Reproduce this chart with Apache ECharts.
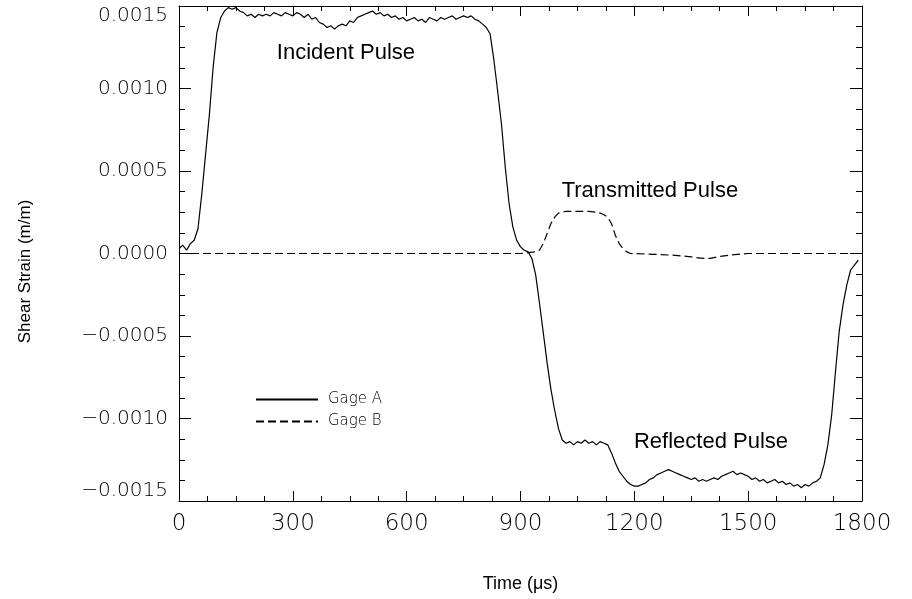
<!DOCTYPE html>
<html>
<head>
<meta charset="utf-8">
<script src="https://cdn.jsdelivr.net/npm/echarts@6/dist/echarts.min.js"></script>
<style>
  html, body { margin: 0; padding: 0; background: #fff; }
  #main { width: 912px; height: 599px; }
</style>
</head>
<body>
<div id="main"></div>
<script>
// Gage A: incident + reflected pulse (sampled every 10 us)
var gageATime = [];
for (var t = 0; t <= 1800; t += 10) gageATime.push(t);
var gageAStrain = [
  0.00003, 0.00005, 0.00002, 0.00006, 0.00008, 0.00015, 0.00036, 0.00060, 0.00084, 0.00113,
  0.00134, 0.00143, 0.00147, 0.00149, 0.00148, 0.00149, 0.00147, 0.00146, 0.00144, 0.00145,
  0.00143, 0.00145, 0.00144, 0.00145, 0.00144, 0.00146, 0.00145, 0.00144, 0.00146, 0.00145,
  0.00144, 0.00146, 0.00145, 0.00143, 0.00145, 0.00142, 0.00143, 0.00140, 0.00139, 0.00137,
  0.00138, 0.00136, 0.00138, 0.00139, 0.00138, 0.00141, 0.00140, 0.00143, 0.00144, 0.00145,
  0.00146, 0.00147, 0.00145, 0.00146, 0.00144, 0.00145, 0.00143, 0.00144, 0.00142, 0.00143,
  0.00141, 0.00142, 0.00143, 0.00141, 0.00142, 0.00140, 0.00143, 0.00142, 0.00141, 0.00143,
  0.00142, 0.00143, 0.00144, 0.00142, 0.00143, 0.00144, 0.00143, 0.00144, 0.00142, 0.00141,
  0.00139, 0.00137, 0.00133, 0.00117, 0.00098, 0.00078, 0.00052, 0.00030, 0.00016, 0.00008,
  0.00004, 0.00002, 0.00001, -0.00003, -0.00013, -0.00030, -0.00048, -0.00066, -0.00082, -0.00095,
  -0.00106, -0.00113, -0.00115, -0.00114, -0.00116, -0.00114, -0.00115, -0.00113, -0.00115, -0.00114,
  -0.00116, -0.00114, -0.00115, -0.00116, -0.00121, -0.00127, -0.00132, -0.00135, -0.00138, -0.00140,
  -0.00141, -0.00141, -0.00140, -0.00139, -0.00137, -0.00136, -0.00134, -0.00133, -0.00132, -0.00131,
  -0.00132, -0.00133, -0.00134, -0.00135, -0.00136, -0.00137, -0.00136, -0.00138, -0.00137, -0.00138,
  -0.00137, -0.00136, -0.00137, -0.00135, -0.00134, -0.00133, -0.00132, -0.00134, -0.00133, -0.00134,
  -0.00135, -0.00137, -0.00136, -0.00138, -0.00137, -0.00139, -0.00138, -0.00137, -0.00139, -0.00138,
  -0.00140, -0.00139, -0.00141, -0.00140, -0.00142, -0.00140, -0.00141, -0.00139, -0.00138, -0.00136,
  -0.00128, -0.00116, -0.00098, -0.00072, -0.00047, -0.00031, -0.00019, -0.00010, -0.00007, -0.00004
];

// Gage B: transmitted pulse
var gageBTime = [0, 100, 200, 300, 400, 500, 600, 700, 800, 900, 920, 940, 950, 960, 970, 980, 990, 1000,
  1020, 1050, 1080, 1100, 1110, 1120, 1130, 1140, 1150, 1160, 1170, 1180, 1190, 1250, 1300, 1350,
  1380, 1400, 1420, 1450, 1500, 1600, 1700, 1800];
var gageBStrain = [0.00000, 0.00000, 0.00000, 0.00000, 0.00000, 0.00000, 0.00000, 0.00000, 0.00000, 0.00000,
  0.000005, 0.00001, 0.00002, 0.00006, 0.00012, 0.00018, 0.00022, 0.000245,
  0.000255, 0.000255, 0.000255, 0.00025, 0.000245, 0.000235, 0.00022, 0.00018, 0.00011, 0.00006,
  0.00003, 0.00001, 0.00000, -0.000005, -0.00001, -0.00002, -0.00003, -0.00003, -0.00002,
  -0.00001, 0.00000, 0.00000, 0.00000, 0.00000];

var xTicks = { min: 0, max: 1800, interval: 300 };
var yTicks = { min: -0.0015, max: 0.0015, interval: 0.0005 };

var pulseLabels = [
  { name: 'Incident Pulse', t: 440, v: 0.001218 },
  { name: 'Transmitted Pulse', t: 1241, v: 0.000382 },
  { name: 'Reflected Pulse', t: 1402, v: -0.001145 }
];

function pairs(xs, ys) {
  var out = [];
  for (var i = 0; i < xs.length; i++) out.push([xs[i], ys[i]]);
  return out;
}

var labelFont = 'DejaVu Sans';
var textFont = 'Liberation Sans, Arial, sans-serif';

var myChart = echarts.init(document.getElementById('main'));

function xAxisOf(pos, showLabel) {
  return {
    type: 'value', position: pos,
    min: xTicks.min, max: xTicks.max, interval: xTicks.interval,
    axisLine: { show: true, onZero: false, lineStyle: { color: '#000', width: 1 } },
    axisTick: { show: true, inside: true, length: 10, lineStyle: { color: '#000' } },
    minorTick: { show: true, splitNumber: 4, length: 5, lineStyle: { color: '#000' } },
    splitLine: { show: false },
    axisLabel: {
      show: showLabel, margin: 12, color: '#000',
      fontFamily: labelFont, fontWeight: 200, fontSize: 23,
      formatter: function (v) { return String(v); }
    },
    name: showLabel ? 'Time (\u03bcs)' : '',
    nameLocation: 'middle', nameGap: 74,
    nameTextStyle: { fontFamily: textFont, fontSize: 18, color: '#000' }
  };
}

function yAxisOf(pos, showLabel) {
  return {
    type: 'value', position: pos,
    min: yTicks.min, max: yTicks.max, interval: yTicks.interval,
    axisLine: { show: true, onZero: false, lineStyle: { color: '#000', width: 1 } },
    axisTick: { show: true, inside: true, length: 12, lineStyle: { color: '#000' } },
    minorTick: { show: true, splitNumber: 4, length: 6, lineStyle: { color: '#000' } },
    splitLine: { show: false },
    axisLabel: {
      show: showLabel, margin: 11, color: '#000',
      fontFamily: labelFont, fontWeight: 200, fontSize: 20,
      verticalAlignMaxLabel: 'top',
      verticalAlignMinLabel: 'bottom',
      formatter: function (v) {
        return v.toFixed(4).replace('-', '\u2212');
      }
    },
    name: showLabel ? 'Shear Strain (m/m)' : '',
    nameLocation: 'middle', nameGap: 145,
    nameTextStyle: { fontFamily: textFont, fontSize: 17, color: '#000', padding: [0, 36, 0, 0] }
  };
}

function markLabel(p) {
  return {
    name: p.name, coord: [p.t, p.v], symbol: 'circle', symbolSize: 0,
    label: {
      show: true, position: 'inside', formatter: p.name, color: '#000',
      fontFamily: textFont, fontSize: 22
    }
  };
}

option = {
  backgroundColor: '#fff',
  animation: false,
  grid: { left: 179, right: 50, top: 6, bottom: 98 },
  legend: {
    orient: 'vertical', left: 250, top: 387,
    itemWidth: 62, itemHeight: 10, itemGap: 7,
    data: ['Gage A', 'Gage B'],
    itemStyle: { opacity: 0 },
    textStyle: { fontFamily: labelFont, fontWeight: 200, fontSize: 15, color: '#000', padding: [0, 0, 0, 5] }
  },
  xAxis: [xAxisOf('bottom', true), xAxisOf('top', false)],
  yAxis: [yAxisOf('left', true), yAxisOf('right', false)],
  series: [
    {
      name: 'Gage A', type: 'line', showSymbol: false, symbol: 'none',
      xAxisIndex: 0, yAxisIndex: 0,
      lineStyle: { color: '#000', width: 1.2 },
      itemStyle: { color: '#000' },
      data: pairs(gageATime, gageAStrain),
      markPoint: { data: [markLabel(pulseLabels[0]), markLabel(pulseLabels[2])] }
    },
    {
      name: 'Gage B', type: 'line', showSymbol: false, symbol: 'none',
      xAxisIndex: 0, yAxisIndex: 0,
      lineStyle: { color: '#000', width: 1.2, type: [8, 4] },
      itemStyle: { color: '#000' },
      data: pairs(gageBTime, gageBStrain),
      markPoint: { data: [markLabel(pulseLabels[1])] }
    }
  ]
};

myChart.setOption(option);
</script>
</body>
</html>
